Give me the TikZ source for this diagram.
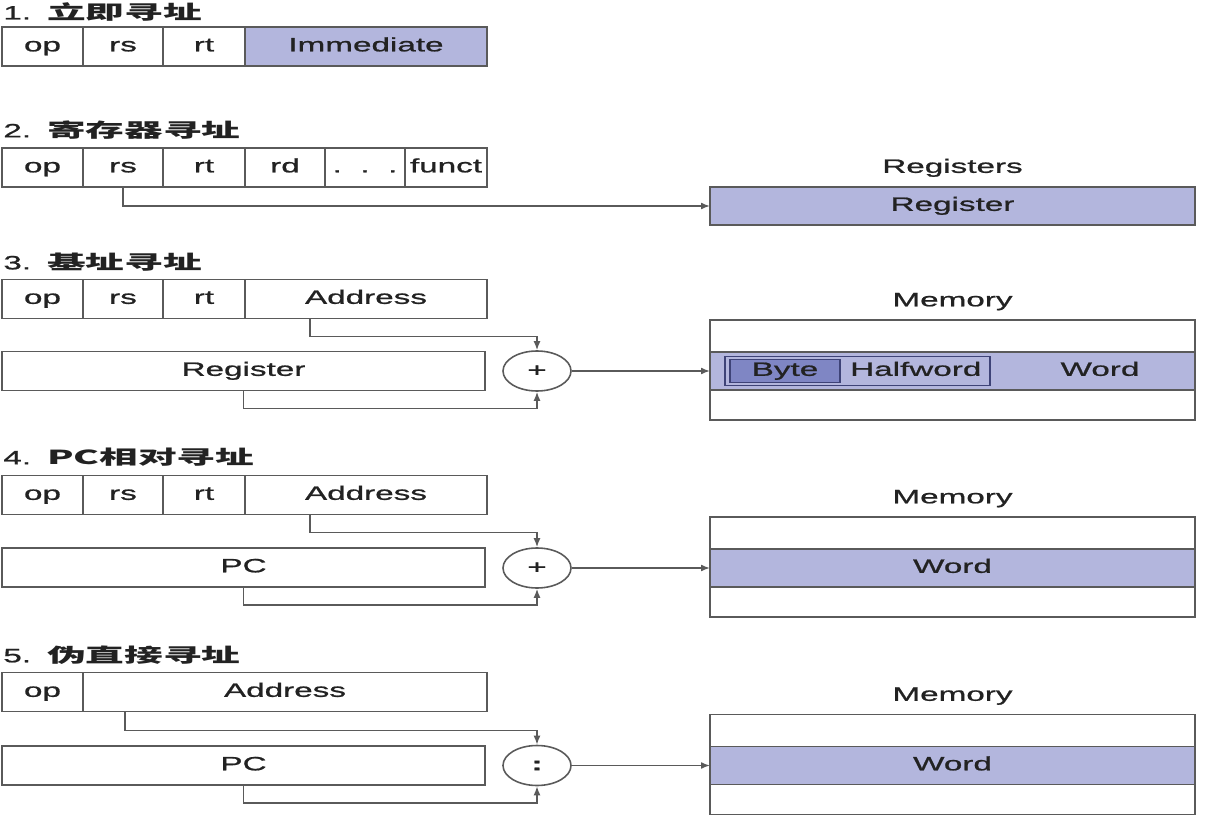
\documentclass[tikz,border=0pt]{standalone}
\usepackage{fontspec}
\setmainfont[FakeStretch=1.72, FakeBold=1.0]{Liberation Sans}
\newfontfamily\cjk[FakeStretch=2.0]{Noto Sans CJK SC}
\usetikzlibrary{positioning, arrows.meta, shapes.geometric, calc}
\definecolor{adLine}{HTML}{5A5A5A}
\definecolor{adFill}{HTML}{B3B6DD}
\definecolor{adByte}{HTML}{7F86C4}
\definecolor{adEdge}{HTML}{3E4377}
\definecolor{adInk}{HTML}{222222}
\newcommand{\secttl}[2]{#1.\hspace{0.32cm}{\cjk\bfseries #2}}
\begin{document}
\begin{tikzpicture}[font=\fontsize{11}{13}\selectfont, text=adInk,
  fld/.style={draw=adLine, fill=white, line width=1pt, minimum height=0.78cm, inner sep=0pt, outer sep=0pt, text height=0.75em, text depth=0.2em},
  hl/.style={fld, fill=adFill},
  band/.style={draw=adLine, line width=1pt, minimum width=9.7cm, inner sep=0pt, outer sep=0pt, text height=0.75em, text depth=0.2em},
  hwbox/.style={draw=adEdge, fill=adFill, line width=0.9pt, minimum width=5.3cm, minimum height=0.58cm, inner sep=0pt},
  bytebox/.style={draw=adEdge, fill=adByte, line width=0.9pt, minimum width=2.2cm, minimum height=0.46cm, inner sep=0pt, text height=0.75em, text depth=0.2em},
  lbl/.style={text height=0.75em, text depth=0.2em},
  adder/.style={draw=adLine, fill=white, ellipse, line width=0.9pt, minimum width=1.36cm, minimum height=0.8cm, inner sep=0pt},
  conn/.style={adLine, line width=0.9pt},
  arr/.style={conn, -{Latex[length=1.8mm, width=1.4mm]}},
  ttl/.style={anchor=west, inner sep=0pt}]
\useasboundingbox (0,0) rectangle (24.5,-16.34);
\node[ttl] (t1) at (0.06,-0.24) {\secttl{1}{立即寻址}};
\node[fld, minimum width=1.62cm, anchor=west] (op1) at (0.04,-0.93) {op};
\node[fld, minimum width=1.6cm, right=0pt of op1] (rs1) {rs};
\node[fld, minimum width=1.64cm, right=0pt of rs1] (rt1) {rt};
\node[hl, minimum width=4.84cm, right=0pt of rt1] (imm1) {Immediate};
\node[ttl] (t2) at (0.06,-2.6) {\secttl{2}{寄存器寻址}};
\node[fld, minimum width=1.62cm, anchor=west] (op2) at (0.04,-3.35) {op};
\node[fld, minimum width=1.6cm, right=0pt of op2] (rs2) {rs};
\node[fld, minimum width=1.64cm, right=0pt of rs2] (rt2) {rt};
\node[fld, minimum width=1.6cm, right=0pt of rt2] (rd2) {rd};
\node[fld, minimum width=1.6cm, right=0pt of rd2] (dots2) {.\ \ .\ \ .};
\node[fld, minimum width=1.64cm, right=0pt of dots2] (fn2) {funct};
\node[lbl] (regs2) at (19.05,-3.36) {Registers};
\node[band, fill=adFill, minimum height=0.76cm] (reg2) at (19.05,-4.12) {Register};
\draw[arr] (rs2.south) |- (reg2.west);
\node[ttl] (t3) at (0.06,-5.24) {\secttl{3}{基址寻址}};
\node[fld, minimum width=1.62cm, anchor=west] (op3) at (0.04,-5.98) {op};
\node[fld, minimum width=1.6cm, right=0pt of op3] (rs3) {rs};
\node[fld, minimum width=1.64cm, right=0pt of rs3] (rt3) {rt};
\node[fld, minimum width=4.84cm, right=0pt of rt3] (addr3) {Address};
\node[fld, minimum width=9.66cm, anchor=west] (reg3) at (0.04,-7.42) {Register};
\node[adder] (add3) at (10.74,-7.42) {+};
\foreach \m/\y in {3/-7.42, 4/-11.36, 5/-15.31}{
  \node[band, fill=adFill, minimum height=0.76cm] (mid\m) at (19.05,\y) {};
  \node[band, minimum height=0.64cm, above=0pt of mid\m] (top\m) {};
  \node[band, minimum height=0.6cm, below=0pt of mid\m] (bot\m) {};
  \node[lbl, above=0.08cm of top\m] (mem\m) {Memory};
}
\node[hwbox] (hw3) at (17.15,-7.42) {};
\node[bytebox, anchor=west] (byte3) at ([xshift=0.1cm]hw3.west) {Byte};
\node[lbl] (half3) at ($(byte3.east)!0.5!(hw3.east)$) {Halfword};
\node[lbl] (word3) at (22.0,-7.42) {Word};
\draw[arr] ([xshift=-1.12cm]addr3.south) -- ++(0,-0.36) -| (add3.north);
\draw[arr] (reg3.south) -- ++(0,-0.36) -| (add3.south);
\draw[arr] (add3.east) -- (mid3.west);
\node[ttl] (t4) at (0.06,-9.14) {\secttl{4}{PC相对寻址}};
\node[fld, minimum width=1.62cm, anchor=west] (op4) at (0.04,-9.9) {op};
\node[fld, minimum width=1.6cm, right=0pt of op4] (rs4) {rs};
\node[fld, minimum width=1.64cm, right=0pt of rs4] (rt4) {rt};
\node[fld, minimum width=4.84cm, right=0pt of rt4] (addr4) {Address};
\node[fld, minimum width=9.66cm, anchor=west] (pc4) at (0.04,-11.35) {PC};
\node[adder] (add4) at (10.74,-11.36) {+};
\node[lbl] (word4) at (mid4) {Word};
\draw[arr] ([xshift=-1.12cm]addr4.south) -- ++(0,-0.36) -| (add4.north);
\draw[arr] (pc4.south) -- ++(0,-0.36) -| (add4.south);
\draw[arr] (add4.east) -- (mid4.west);
\node[ttl] (t5) at (0.06,-13.1) {\secttl{5}{伪直接寻址}};
\node[fld, minimum width=1.62cm, anchor=west] (op5) at (0.04,-13.84) {op};
\node[fld, minimum width=8.08cm, right=0pt of op5] (addr5) {Address};
\node[fld, minimum width=9.66cm, anchor=west] (pc5) at (0.04,-15.31) {PC};
\node[adder] (add5) at (10.74,-15.31) {\textbf{:}};
\node[lbl] (word5) at (mid5) {Word};
\draw[arr] ([xshift=-3.2cm]addr5.south) -- ++(0,-0.38) -| (add5.north);
\draw[arr] (pc5.south) -- ++(0,-0.36) -| (add5.south);
\draw[arr] (add5.east) -- (mid5.west);
\end{tikzpicture}
\end{document}
